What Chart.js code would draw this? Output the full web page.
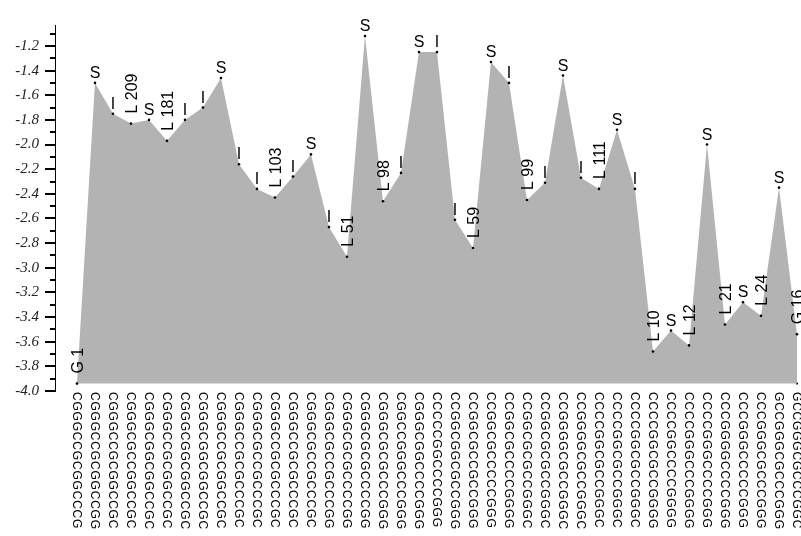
<!DOCTYPE html>
<html>
<head>
<meta charset="utf-8">
<script src="https://cdn.jsdelivr.net/npm/chart.js@4"></script>
<style>
  html, body { margin: 0; padding: 0; background: #fff; }
  #energy { display: block; }
</style>
</head>
<body>
<canvas id="energy" width="801" height="536"></canvas>
<script>
'use strict'

// energy of each window, left to right
let energies = [-3.94,-1.50,-1.75,-1.83,-1.80,-1.97,-1.80,-1.70,-1.46,-2.16,-2.36,-2.43,-2.26,-2.08,-2.67,-2.91,-1.12,-2.46,-2.23,-1.25,-1.25,-2.61,-2.84,-1.33,-1.50,-2.45,-2.31,-1.44,-2.27,-2.36,-1.88,-2.36,-3.68,-3.51,-3.63,-2.00,-3.46,-3.28,-3.39,-2.35,-3.54];

// structure tag over each point
let tags = ['G 1','S','I','L 209','S','L 181','I','I','S','I','I','L 103','I','S','I','L 51','S','L 98','I','S','I','I','L 59','S','I','L 99','I','S','I','L 111','S','I','L 10','S','L 12','S','L 21','S','L 24','S','G 16'];

// sequence under each point
let seqs = [
    'CGGGCCGCGGCCCG','CGGGCCGCGGCCGG','CGGGCCGCGGCCGC','CGGGCGCCGGCCGC','CGGGCGGCGGCCGC',
    'CGGGCCGCGGCCGC','CGGGCGGCGGCCGC','CGGGCGGCGGCCGC','CGGGCCGCGGCCGC','CGGGCCGCGCCCGC',
    'CGGGCGCCGCCCGC','CGGGCCGCGCCCGC','CGGGCCGCGCCCGC','CGGGCGCCGCCCGC','CGGGCGCCGCCCGG',
    'CGGGCGCGCCCCGG','CGGGCGCGCCCCGG','CGGGCGCGCCCGGG','CGGCCGGGCCCGGG','CGGGCGGCCCCGGG',
    'CCCCCGGCCCCGGG','CCGGCGGCGCCGGG','CCGGCGCCGCCGGG','CCGGCGCCCCCGGG','CCGGCGCCCCGGGG',
    'CCGGCGCGCCGGGC','CCGGCGCGCCGGGC','CCGGGGCGCCGGGC','CCGGGGCGCCGGGC','CCCCGGCGCCGGGC',
    'CCCCGGCGCCGGGC','CCCCGGCGCCGGGC','CCCCGGCGCCGGGG','CCCCGGCCCCGGGG','CCCCGGGCCCGGGG',
    'CCCCGGGCCCCGGG','CCCGGGGCCCCGGG','CCCGGGCCCCCGGG','CCCGGGCGCCCGGG','GCCGGGCGCCCGGG',
    'GCCGGGCGCCCGGC'
];

let yMin = -4.0;
let yMax = -1.03;

let floor = Math.min(...energies);
let points = energies.map(function (v, i) { return {x: i, y: v}; });

const labelPlugin = {
    id: 'tagsAndSeqs',
    afterDatasetsDraw(chart) {
        const ctx = chart.ctx;
        const meta = chart.getDatasetMeta(0);
        ctx.save();
        ctx.fillStyle = '#000';
        ctx.font = '16px "Liberation Sans", Arial, sans-serif';
        meta.data.forEach(function (pt, i) {
            let t = tags[i];
            if (t.length === 1) {
                ctx.textAlign = 'center';
                ctx.textBaseline = 'alphabetic';
                ctx.fillText(t, pt.x, pt.y - 5);
            } else {
                ctx.save();
                ctx.translate(pt.x + 6, pt.y - 10);
                ctx.rotate(-Math.PI / 2);
                ctx.textAlign = 'left';
                ctx.textBaseline = 'alphabetic';
                ctx.fillText(t, 0, 0);
                ctx.restore();
            }
        });
        ctx.restore();
    },
    afterDraw(chart) {
        const ctx = chart.ctx;
        const xs = chart.scales.x;
        const ys = chart.scales.y;
        const left = chart.chartArea.left;
        ctx.save();
        // y tick marks, long on the labelled ones
        ctx.strokeStyle = '#000';
        ctx.lineWidth = 2;
        ys.ticks.forEach(function (tk) {
            let py = Math.round(ys.getPixelForValue(tk.value));
            let major = Math.round(tk.value * 10) % 2 === 0;
            ctx.beginPath();
            ctx.moveTo(left - (major ? 10 : 5), py);
            ctx.lineTo(left, py);
            ctx.stroke();
        });
        // sequences, read top to bottom
        ctx.fillStyle = '#000';
        ctx.font = '12px "Liberation Sans", Arial, sans-serif';
        ctx.letterSpacing = '0.8px';
        ctx.textAlign = 'left';
        ctx.textBaseline = 'alphabetic';
        seqs.forEach(function (s, i) {
            let px = xs.getPixelForValue(i);
            ctx.save();
            ctx.translate(px - 4.3, 392);
            ctx.rotate(Math.PI / 2);
            ctx.fillText(s, 0, 0);
            ctx.restore();
        });
        ctx.restore();
    }
};

const config = {
    type: 'line',
    data: {
        datasets: [{
            label: 'energy',
            data: points,
            fill: {value: floor},
            backgroundColor: '#b3b3b3',
            borderColor: 'rgba(0,0,0,0)',
            borderWidth: 1,
            tension: 0,
            pointRadius: 1.3,
            pointBackgroundColor: '#000',
            pointBorderWidth: 0,
            clip: false
        }, {
            label: 'base',
            data: [{x: energies.length - 1, y: floor}],
            showLine: false,
            pointRadius: 1.1,
            pointBackgroundColor: '#000',
            pointBorderWidth: 0,
            clip: false
        }]
    },
    options: {
        responsive: false,
        devicePixelRatio: 1,
        animation: false,
        layout: { padding: { top: 12, right: 4, bottom: 145, left: 0 } },
        plugins: {
            legend: { display: false },
            tooltip: { enabled: false }
        },
        scales: {
            x: {
                type: 'linear',
                min: -1.22,
                max: energies.length - 1,
                display: false
            },
            y: {
                type: 'linear',
                min: yMin,
                max: yMax,
                afterFit(scale) { scale.width = 55; },
                grid: { display: true, drawOnChartArea: false, drawTicks: false, tickLength: 0 },
                border: { display: true, color: '#000', width: 1 },
                ticks: {
                    stepSize: 0.1,
                    includeBounds: false,
                    autoSkip: false,
                    padding: 16,
                    color: '#222',
                    font: { family: '"Liberation Serif", "Times New Roman", serif', style: 'italic', size: 15 },
                    callback: function (v) {
                        return Math.round(v * 10) % 2 === 0 ? v.toFixed(1) : '';
                    }
                }
            }
        }
    },
    plugins: [labelPlugin]
};

var energyChart = new Chart(document.getElementById('energy'), config);
</script>
</body>
</html>
